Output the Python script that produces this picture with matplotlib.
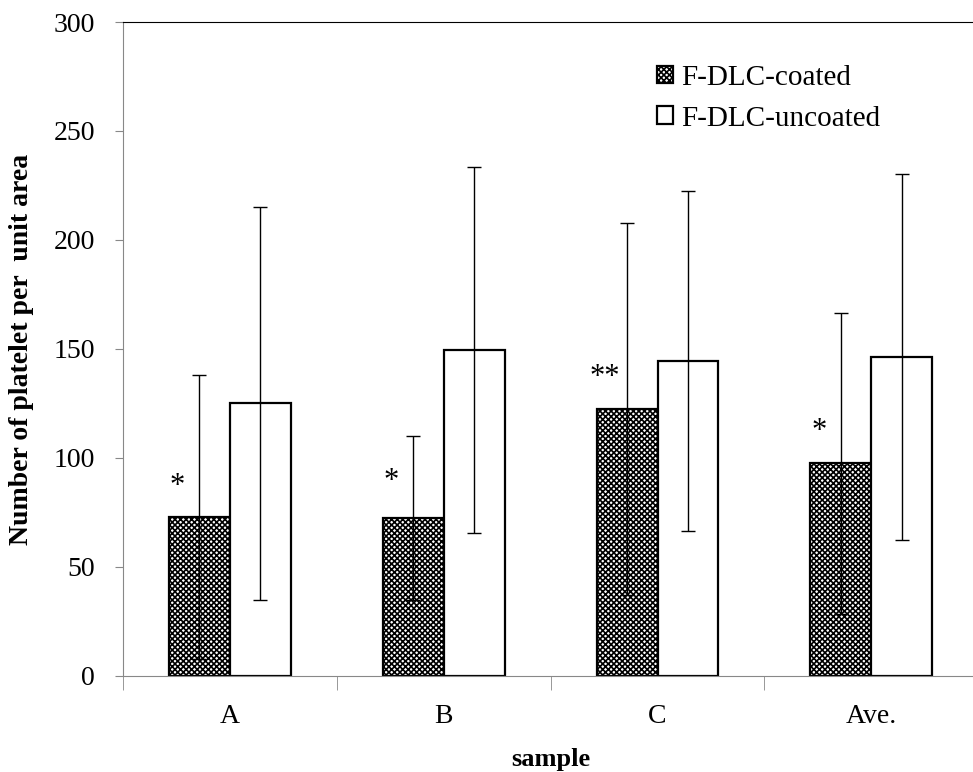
import numpy as np
import matplotlib
matplotlib.use('Agg')
import matplotlib.pyplot as plt
from matplotlib.transforms import offset_copy

samples = ['A', 'B', 'C', 'Ave.']
coated = [73, 72.5, 122.5, 97.5]
coated_err = [65, 37.5, 85.5, 69]
uncoated = [125, 149.5, 144.5, 146.5]
uncoated_err = [90, 84, 78, 84]
marks = ['*', '*', '**', '*']
mark_y = [90, 92, 140, 115]

plt.rcParams['font.family'] = ['Liberation Serif', 'DejaVu Serif']
plt.rcParams['hatch.linewidth'] = 1.2

fig = plt.figure(figsize=(9.73, 7.72), dpi=100)
ax = fig.add_axes([0.1264, 0.1244, 0.879, 0.8471])

x = np.arange(len(samples))
w = 0.285
ax.bar(x - w / 2, coated, w, color='white', edgecolor='black', hatch='xxxxxx',
       linewidth=1.6, label='F-DLC-coated', zorder=2)
ax.bar(x + w / 2, uncoated, w, color='white', edgecolor='black',
       linewidth=1.6, label='F-DLC-uncoated', zorder=2)
ax.errorbar(x - w / 2, coated, yerr=coated_err, fmt='none', ecolor='black',
            elinewidth=1.0, capsize=5, capthick=1.0, zorder=3)
ax.errorbar(x + w / 2, uncoated, yerr=uncoated_err, fmt='none', ecolor='black',
            elinewidth=1.0, capsize=5, capthick=1.0, zorder=3)

# asterisks: glyph sits high above the baseline, so shift down
star_tr = offset_copy(ax.transData, fig=fig, y=-10, units='points')
for i, m in enumerate(marks):
    ax.text(x[i] - w + 0.04, mark_y[i], m, ha='center', va='baseline',
            fontsize=22, transform=star_tr)

ax.set_xlim(-0.5, len(samples) - 0.5)
ax.set_ylim(0, 300)
ax.set_yticks(np.arange(0, 301, 50))
ax.set_xticks(x)
ax.set_xticklabels(samples)
ax.set_xticks(np.arange(-0.5, len(samples)), minor=True)
ax.tick_params(axis='x', which='major', length=0, pad=20, labelsize=20)
ax.tick_params(axis='x', which='minor', length=10, color='#888888', direction='out')
ax.tick_params(axis='y', length=6, color='#888888', labelsize=20, pad=14)

ax.spines['left'].set_color('#888888')
ax.spines['bottom'].set_color('#888888')
ax.spines['top'].set_color('black')
ax.spines['right'].set_visible(False)

ax.set_ylabel('Number of platelet per  unit area', fontsize=20, fontweight='bold', labelpad=14)
ax.set_xlabel('sample', fontsize=19, fontweight='bold', labelpad=14)

ax.legend(loc='upper left', bbox_to_anchor=(657 / 973, 1 - 65 / 772),
          bbox_transform=fig.transFigure, frameon=False, fontsize=21,
          borderpad=0, borderaxespad=0,
          handlelength=0.55, handleheight=0.55, handletextpad=0.28, labelspacing=0.5)

fig.savefig('out.png', dpi=100)
